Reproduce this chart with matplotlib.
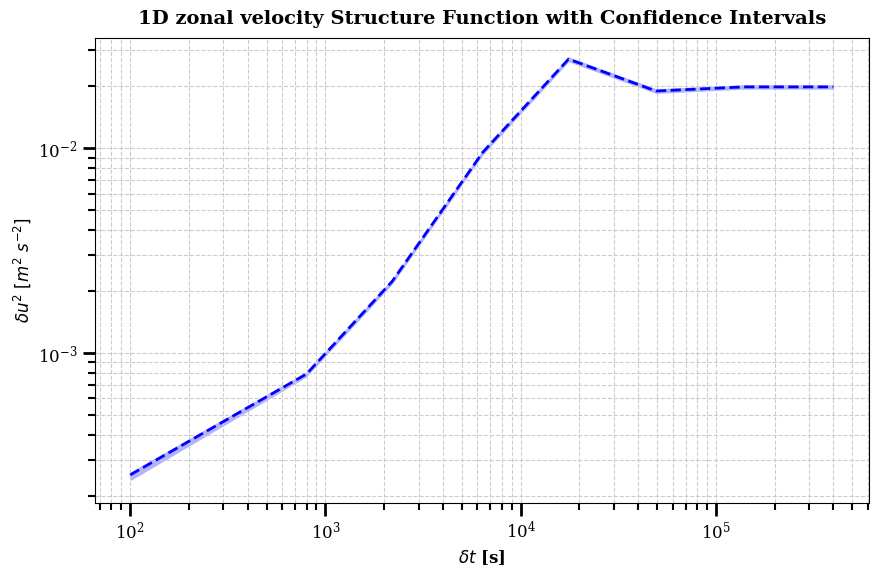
import numpy as np
import matplotlib.pyplot as plt

# structure function values
dt = np.array([100, 800, 2200, 6400, 17600, 49400, 139000, 400000])
du2 = np.array([2.54e-4, 7.9e-4, 2.24e-3, 9.55e-3, 2.72e-2, 1.90e-2, 1.99e-2, 1.99e-2])
ci_low = np.array([2.38e-4, 7.65e-4, 2.17e-3, 9.25e-3, 2.64e-2, 1.85e-2, 1.94e-2, 1.94e-2])
ci_high = np.array([2.62e-4, 8.1e-4, 2.30e-3, 9.80e-3, 2.79e-2, 1.95e-2, 2.04e-2, 2.04e-2])

plt.rcParams['font.family'] = 'DejaVu Serif'

fig = plt.figure(figsize=(8.8, 5.75), dpi=100)
ax = fig.add_axes([0.108, 0.125, 0.879, 0.809])

ax.fill_between(dt, ci_low, ci_high, color='blue', alpha=0.3, lw=0)
ax.plot(dt, du2, color='blue', linestyle='--', linewidth=2)

ax.set_xscale('log'); ax.set_yscale('log')
ax.set_ylim(1.85e-4, 3.45e-2)
ax.grid(True, which='both', linestyle='--', color='#cccccc', linewidth=0.8)

ax.tick_params(which='major', length=9, width=2, labelsize=12)
ax.tick_params(which='minor', length=5, width=1.5)

ax.set_title("1D zonal velocity Structure Function with Confidence Intervals",
             fontsize=14, fontweight='bold', pad=10)
ax.set_xlabel(r"$\delta t$ [s]", fontsize=12, fontweight='bold')
ax.set_ylabel(r"$\delta u^2\ [m^2\ s^{-2}]$", fontsize=12)

fig.savefig("out.png", dpi=100)
